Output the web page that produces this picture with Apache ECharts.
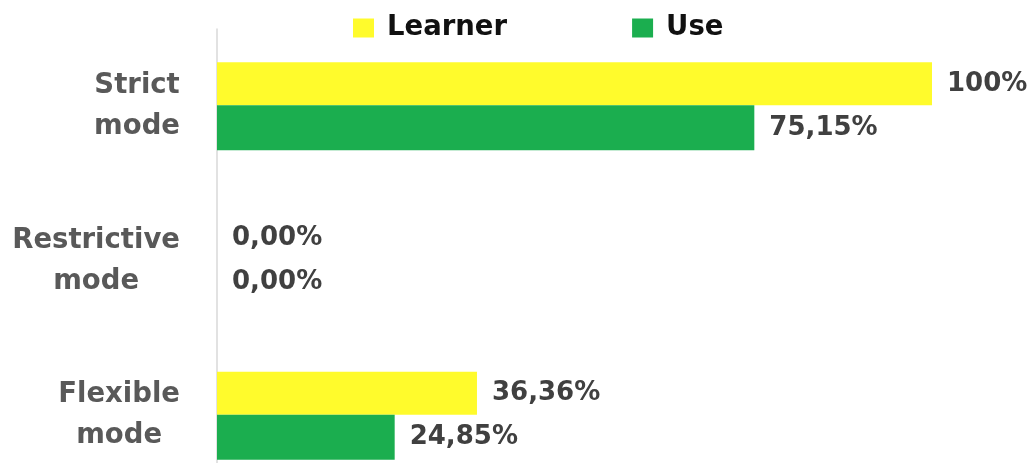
<!DOCTYPE html>
<html>
<head>
<meta charset="utf-8">
<script src="https://cdn.jsdelivr.net/npm/echarts@6/dist/echarts.min.js"></script>
<style>
  html, body { margin: 0; padding: 0; background: #ffffff; }
  #chart { width: 1036px; height: 463px; }
</style>
</head>
<body>
<div id="chart"></div>
<script>
// Modes shown top to bottom
const categories = ['Strict\nmode', 'Restrictive\nmode', 'Flexible\nmode'];
const learnerValues = [100, 0, 36.36];
const useValues = [75.15, 0, 24.85];
const seriesNames = ['Learner', 'Use'];

const FONT = '"DejaVu Sans", sans-serif';

// "75,15%" style, and "100%" for whole values
function pct(v) {
  if (v === 100) return '100%';
  return v.toFixed(2).replace('.', ',') + '%';
}

const valueLabel = {
  show: true,
  position: 'right',
  distance: 15,
  fontFamily: FONT,
  fontWeight: 'bold',
  fontSize: 26,
  color: '#404040',
  formatter: p => pct(p.value)
};

const chart = echarts.init(document.getElementById('chart'), null, { renderer: 'canvas' });
chart.setOption({
  animation: false,
  backgroundColor: '#ffffff',
  legend: {
    top: 9,
    left: 348,
    itemWidth: 21,
    itemHeight: 19,
    itemGap: 125,
    icon: 'rect',
    textStyle: { fontFamily: FONT, fontWeight: 'bold', fontSize: 27.5, color: '#111111', padding: [0, 0, 0, 8] },
    data: seriesNames
  },
  // the last band runs past the bottom edge of the page
  grid: { left: 217, width: 715, top: 29, height: 464, containLabel: false, outerBoundsMode: 'none' },
  xAxis: {
    type: 'value',
    min: 0,
    max: 100,
    show: false
  },
  yAxis: {
    type: 'category',
    inverse: true,
    data: categories,
    axisLine: { show: true, lineStyle: { color: '#d9d9d9', width: 1.5 } },
    axisTick: { show: false },
    splitLine: { show: false },
    axisLabel: {
      margin: 37,
      align: 'right',
      formatter: v => v.split('\n').map(s => '{a|' + s + '}').join('\n'),
      rich: {
        a: {
          align: 'center',
          fontFamily: FONT,
          fontWeight: 'bold',
          fontSize: 27.5,
          lineHeight: 41,
          color: '#595959'
        }
      }
    }
  },
  series: [
    {
      name: seriesNames[0],
      type: 'bar',
      data: learnerValues,
      barWidth: 43,
      barGap: '0%',
      itemStyle: { color: '#FFFB2C' },
      label: valueLabel
    },
    {
      name: seriesNames[1],
      type: 'bar',
      data: useValues,
      barWidth: 45,
      barGap: '0%',
      itemStyle: { color: '#1BAE4F' },
      label: valueLabel
    }
  ]
});
</script>
</body>
</html>
